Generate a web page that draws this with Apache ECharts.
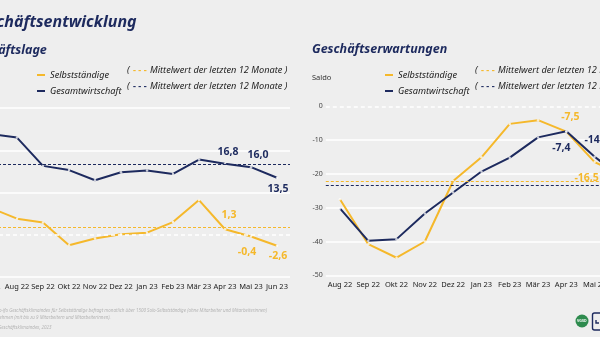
<!DOCTYPE html>
<html lang="de">
<head>
<meta charset="utf-8">
<title>Geschäftsentwicklung</title>
<script src="https://cdn.jsdelivr.net/npm/echarts@6/dist/echarts.min.js"></script>
<style>
  html, body { margin: 0; padding: 0; background: #eeeeee; }
  #chart { width: 600px; height: 337px; }
</style>
</head>
<body>
<div id="chart"></div>
<script>
// Geschäftslage (Saldo), Jul 22 – Jun 23
const lageMonate = ['Jul 22', 'Aug 22', 'Sep 22', 'Okt 22', 'Nov 22', 'Dez 22', 'Jan 23', 'Feb 23', 'Mär 23', 'Apr 23', 'Mai 23', 'Jun 23'];
const lageSelbststaendige = [6.3, 3.8, 2.9, -2.5, -0.9, 0.1, 0.5, 3.0, 8.2, 1.3, -0.4, -2.6];
const lageGesamtwirtschaft = [23.8, 23.0, 16.3, 15.3, 12.9, 14.8, 15.2, 14.4, 17.8, 16.8, 16.0, 13.5];
const lageMittelSelbststaendige = 1.7;
const lageMittelGesamtwirtschaft = 16.7;
const lageTicks = [-10, 0, 10, 20, 30];

// Geschäftserwartungen (Saldo), Aug 22 – Jun 23
const erwMonate = ['Aug 22', 'Sep 22', 'Okt 22', 'Nov 22', 'Dez 22', 'Jan 23', 'Feb 23', 'Mär 23', 'Apr 23', 'Mai 23', 'Jun 23'];
const erwSelbststaendige = [-27.5, -40.8, -44.8, -40.0, -22.1, -15.1, -5.2, -4.1, -7.5, -16.5, -20.5];
const erwGesamtwirtschaft = [-30.2, -39.8, -39.3, -31.7, -25.5, -19.3, -15.2, -9.2, -7.4, -14.9, -21.5];
const erwMittelSelbststaendige = -22.3;
const erwMittelGesamtwirtschaft = -23.3;
const erwTicks = [-50, -40, -30, -20, -10, 0];

const GELB = '#f5b82b';
const NAVY = '#1d2a5e';
const FONT = '"Noto Sans", "DejaVu Sans", sans-serif';

const fmt = v => v.toFixed(1).replace('.', ',');

// attach value labels to selected points: { index: [position, dx, dy] }
function withLabels(values, color, spec) {
  return values.map((v, i) => {
    const s = spec[i];
    if (!s) return v;
    return {
      value: v,
      label: {
        show: true, position: s[0], offset: [s[1], s[2]],
        color: color, fontSize: 10.5, fontWeight: 'bold', fontFamily: FONT,
        formatter: p => fmt(p.value)
      }
    };
  });
}

function lineSeries(name, data, color, gi, mean, withZero) {
  const ml = [];
  if (withZero) ml.push({ yAxis: 0, lineStyle: { color: '#ffffff', type: [4, 3], width: 1.6 } });
  ml.push({ yAxis: mean, lineStyle: { color: color, type: [3, 2], width: 1.1 } });
  return {
    name: name, type: 'line', xAxisIndex: gi, yAxisIndex: gi,
    data: data,
    symbol: 'circle', symbolSize: 2.5,
    itemStyle: { color: 'rgba(255,255,255,0.75)' },
    lineStyle: { color: color, width: 2 },
    emphasis: { disabled: true },
    markLine: { silent: true, symbol: 'none', label: { show: false }, data: ml }
  };
}

function legendBlock(x) {
  return {
    left: x, top: 64, orient: 'vertical', icon: 'rect',
    itemWidth: 8, itemHeight: 2, itemGap: 4, selectedMode: false,
    textStyle: { fontStyle: 'italic', fontSize: 9.2, color: '#222', lineHeight: 12, fontFamily: FONT },
    data: [
      { name: 'Selbstständige', itemStyle: { color: GELB } },
      { name: 'Gesamtwirtschaft', itemStyle: { color: NAVY } }
    ]
  };
}

function meanNote(x, y, color) {
  return {
    type: 'text', x: x, y: y, silent: true,
    style: {
      text: '{p|(} {d|- - -} {p|Mittelwert der letzten 12 Monate )}',
      verticalAlign: 'middle',
      rich: {
        p: { fontStyle: 'italic', fontSize: 9.2, fill: '#222', fontFamily: FONT },
        d: { fontSize: 9.2, fontWeight: 'bold', fill: color, fontFamily: FONT }
      }
    }
  };
}

function textEl(txt, x, y, font, fill) {
  return { type: 'text', x: x, y: y, silent: true, style: { text: txt, font: font, fill: fill, verticalAlign: 'middle' } };
}

const chart = echarts.init(document.getElementById('chart'), null, { renderer: 'canvas' });

const xAxisBase = {
  type: 'category', boundaryGap: true,
  axisLine: { show: false }, axisTick: { show: false },
  axisLabel: { interval: 0, showMinLabel: true, showMaxLabel: true, hideOverlap: false, fontSize: 7.5, color: '#222', margin: 6, fontFamily: FONT }
};
const yAxisBase = {
  type: 'value', interval: 10,
  axisLine: { show: false }, axisTick: { show: false },
  axisLabel: { fontSize: 7, color: '#444', margin: 3, fontFamily: FONT }
};

chart.setOption({
  animation: false,
  backgroundColor: '#eeeeee',
  textStyle: { fontFamily: FONT },
  grid: [
    { left: -22, top: 108, width: 312, height: 169, outerBoundsMode: 'none', containLabel: false },
    { left: 325.8, top: 106.3, width: 311.3, height: 169, outerBoundsMode: 'none', containLabel: false }
  ],
  xAxis: [
    Object.assign({}, xAxisBase, { gridIndex: 0, data: lageMonate }),
    Object.assign({}, xAxisBase, { gridIndex: 1, data: erwMonate })
  ],
  yAxis: [
    Object.assign({}, yAxisBase, {
      gridIndex: 0, min: lageTicks[0], max: lageTicks[lageTicks.length - 1],
      splitLine: { lineStyle: { width: 1.6, color: lageTicks.map(t => t === 0 ? 'rgba(0,0,0,0)' : '#ffffff') } }
    }),
    Object.assign({}, yAxisBase, {
      gridIndex: 1, min: erwTicks[0], max: erwTicks[erwTicks.length - 1],
      splitLine: { lineStyle: { width: 1.6, color: erwTicks.map(t => t === 0 ? 'rgba(0,0,0,0)' : '#ffffff') } }
    })
  ],
  legend: [legendBlock(32), legendBlock(380)],
  series: [
    lineSeries('Selbstständige',
      withLabels(lageSelbststaendige, GELB, { 9: ['top', 4, -2], 10: ['bottom', -4, 4], 11: ['bottom', 1, -1] }),
      GELB, 0, lageMittelSelbststaendige, true),
    lineSeries('Gesamtwirtschaft',
      withLabels(lageGesamtwirtschaft, NAVY, { 9: ['top', 3, 0], 10: ['top', 7, 0], 11: ['bottom', 1, 0] }),
      NAVY, 0, lageMittelGesamtwirtschaft, false),
    lineSeries('Selbstständige',
      withLabels(erwSelbststaendige, GELB, { 8: ['top', 4, -3], 9: ['bottom', -8, 4] }),
      GELB, 1, erwMittelSelbststaendige, true),
    lineSeries('Gesamtwirtschaft',
      withLabels(erwGesamtwirtschaft, NAVY, { 8: ['bottom', -5, 5], 9: ['top', 2, -5] }),
      NAVY, 1, erwMittelGesamtwirtschaft, false)
  ],
  graphic: [
    textEl('Geschäftsentwicklung', -31, 22, 'italic bold 16px ' + FONT, NAVY),
    textEl('Geschäftslage', -37, 50, 'italic bold 12.5px ' + FONT, NAVY),
    textEl('Geschäftserwartungen', 312, 49, 'italic bold 12.5px ' + FONT, NAVY),
    textEl('Saldo', -36, 78, '7.5px ' + FONT, '#333'),
    textEl('Saldo', 312, 78, '7.5px ' + FONT, '#333'),
    meanNote(127, 70, GELB),
    meanNote(127, 86, NAVY),
    meanNote(475, 70, GELB),
    meanNote(475, 86, NAVY),
    textEl('Hinweis: Der Jimdo-ifo Geschäftsklimaindex für Selbstständige befragt monatlich über 1500 Solo-Selbstständige (ohne Mitarbeiter und Mitarbeiterinnen)', -36, 311, 'italic 4.5px ' + FONT, '#b4b4b4'),
    textEl('und Kleinstunternehmen (mit bis zu 9 Mitarbeitern und Mitarbeiterinnen).', -36, 318, 'italic 4.5px ' + FONT, '#b4b4b4'),
    textEl('Quelle: Jimdo-ifo Geschäftsklimaindex, 2023', -36, 328, 'italic 4.5px ' + FONT, '#b4b4b4'),
    // VGSD badge and navigation icon in the footer
    { type: 'circle', silent: true, shape: { cx: 582, cy: 321, r: 6.5 }, style: { fill: '#2e8b4e' } },
    textEl('VGSD', 577, 321, 'bold 3.6px ' + FONT, '#ffffff'),
    { type: 'rect', silent: true, shape: { x: 592.5, y: 313, width: 16, height: 17, r: 2 }, style: { fill: 'none', stroke: NAVY, lineWidth: 1.4 } },
    { type: 'polyline', silent: true, shape: { points: [[596, 320], [596, 323], [599, 323]] }, style: { fill: 'none', stroke: NAVY, lineWidth: 1.4 } }
  ]
});
</script>
</body>
</html>
